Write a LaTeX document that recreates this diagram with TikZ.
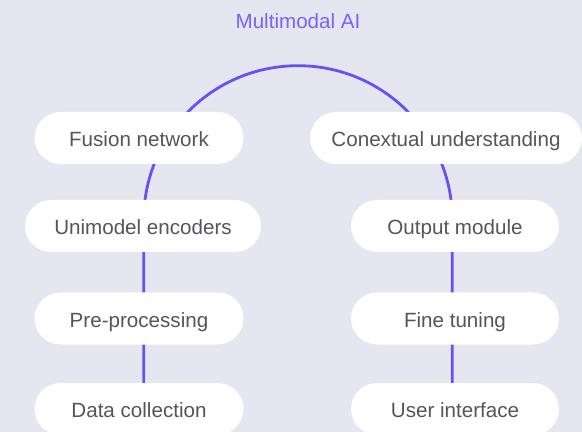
\documentclass[tikz,border=0pt]{standalone}
\usepackage{fontspec}
\setmainfont{Liberation Sans}
\usetikzlibrary{backgrounds}

\definecolor{canvas}{HTML}{E6E6F0}
\definecolor{accent}{HTML}{6A4FF6}
\definecolor{titleink}{HTML}{7A62FF}
\definecolor{pillink}{HTML}{55545F}

\tikzset{
  pill/.style={fill=white, rounded corners=26pt, minimum height=52pt,
    inner sep=0pt, text height=20pt, text depth=2.6pt,
    text=pillink, font=\fontsize{20.6}{22}\selectfont},
  link/.style={draw=accent, line width=2.8pt},
  heading/.style={text=titleink, font=\fontsize{20.6}{22}\selectfont}
}

\begin{document}
\begin{tikzpicture}[x=1pt, y=1pt]
  \useasboundingbox (0,0) rectangle (582,432);

  % title
  \node[heading] (title) at (298,411) {Multimodal AI};

  % left column
  \node[pill, minimum width=209pt] (fn) at (139,294) {Fusion network};
  \node[pill, minimum width=236pt] (ue) at (143,206) {Unimodel encoders};
  \node[pill, minimum width=209pt] (pp) at (139,113.5) {Pre-processing};
  \node[pill, minimum width=209pt] (dc) at (139,23) {Data collection};

  % right column
  \node[pill, minimum width=272pt] (cu) at (446,294) {Conextual understanding};
  \node[pill, minimum width=208pt] (om) at (455,206) {Output module};
  \node[pill, minimum width=208pt] (ft) at (455,113.5) {Fine tuning};
  \node[pill, minimum width=208pt] (ui) at (455,23) {User interface};

  % feet of the arch
  \coordinate (la) at (143.7,212);
  \coordinate (ra) at (452.3,212);

  \begin{pgfonlayer}{background}
    \fill[canvas] (0,0) rectangle (582,432);
    \draw[link] (dc.center -| la) -- (pp.center -| la) -- (ue.center -| la) -- (la)
      arc[start angle=180, end angle=0, radius=154.3]
      -- (om.center -| ra) -- (ft.center -| ra) -- (ui.center -| ra);
  \end{pgfonlayer}
\end{tikzpicture}
\end{document}
